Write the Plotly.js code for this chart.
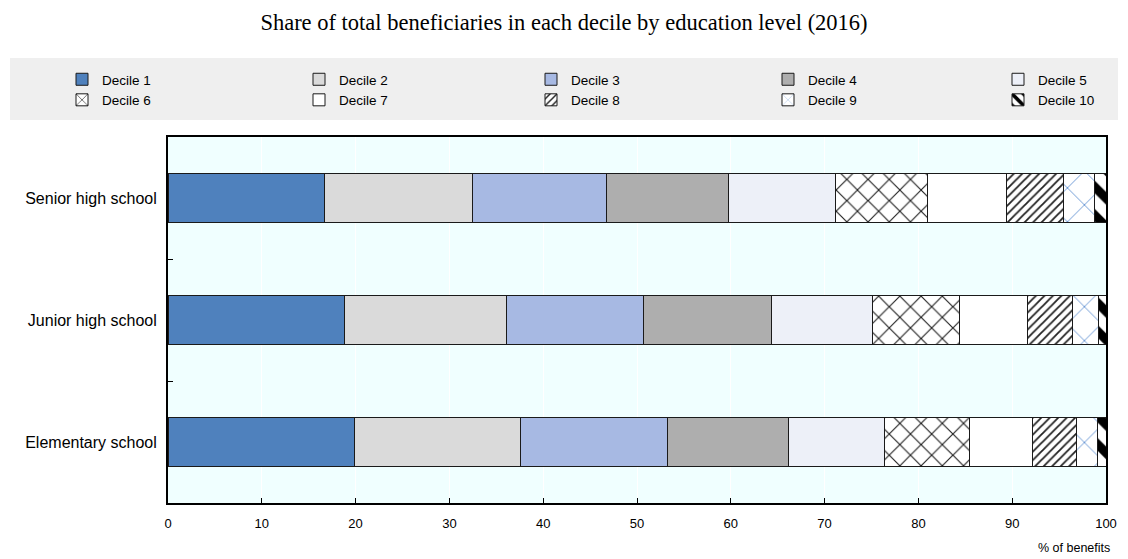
<!DOCTYPE html>
<html>
<head>
<meta charset="utf-8">
<script src="https://cdn.plot.ly/plotly-3.0.1.min.js"></script>
<style>html,body{margin:0;padding:0;background:#fff;}#chart{width:1128px;height:559px;}</style>
</head>
<body>
<div id="chart"></div>
<script>
// Categories (bottom to top)
const categories = ['Elementary school', 'Junior high school', 'Senior high school'];
const deciles = ['Decile 1','Decile 2','Decile 3','Decile 4','Decile 5','Decile 6','Decile 7','Decile 8','Decile 9','Decile 10'];
// Shares (%) per decile, order: Elementary, Junior high, Senior high
const decile1  = [19.9, 18.8, 16.7];
const decile2  = [17.7, 17.3, 15.8];
const decile3  = [15.6, 14.6, 14.3];
const decile4  = [13.0, 13.6, 13.0];
const decile5  = [10.2, 10.8, 11.4];
const decile6  = [9.0, 9.3, 9.8];
const decile7  = [6.8, 7.2, 8.4];
const decile8  = [4.7, 4.8, 6.1];
const decile9  = [2.2, 2.8, 3.3];
const decile10 = [0.9, 0.9, 1.2];
const xTicks = [0,10,20,30,40,50,60,70,80,90,100];

const series = [decile1,decile2,decile3,decile4,decile5,decile6,decile7,decile8,decile9,decile10];
const fills = ['#4f81bd','#dadada','#a7b9e3','#aeaeae','#edf0f8','#ffffff','#ffffff','#ffffff','#ffffff','#ffffff'];
const patterns = [
  null,null,null,null,null,
  {shape:'x', fgcolor:'#222222', bgcolor:'#ffffff', size:15, solidity:0.15},
  null,
  {shape:'/', fgcolor:'#222222', bgcolor:'#ffffff', size:6, solidity:0.3},
  {shape:'x', fgcolor:'#6f9bd6', bgcolor:'#ffffff', size:24, solidity:0.08},
  {shape:'\\', fgcolor:'#000000', bgcolor:'#ffffff', size:20, solidity:0.45}
];

const legendIds = ['legend','legend2','legend3','legend4','legend5'];

const traces = series.map((vals, i) => {
  const marker = {color: fills[i], line:{color:'#1a1a1a', width:1}};
  if (patterns[i]) marker.pattern = patterns[i];
  return {
    type:'bar', orientation:'h', name: deciles[i],
    y: categories, x: vals, width: 0.4, marker: marker,
    legend: legendIds[i % 5],
    hoverinfo:'x+name'
  };
});

const W = 1128, H = 559;
const L = 168, R = 22, T = 137, B = 56;
const pw = W - L - R, ph = H - T - B;
const px2x = p => (p - L) / pw;
const py2y = p => (H - B - p) / ph;

const legendCols = [62, 299, 531, 768, 998];
const legendFont = {size:13.5, family:'Liberation Sans, Arial, sans-serif', color:'#000000'};

const layout = {
  width: W, height: H,
  margin: {l:L, r:R, t:T, b:B, pad:0},
  paper_bgcolor:'#ffffff',
  plot_bgcolor:'#f0ffff',
  barmode:'stack',
  font:{family:'Liberation Sans, Arial, sans-serif', color:'#000000', size:13},
  title:{
    text:'Share of total beneficiaries in each decile by education level (2016)',
    font:{family:'Liberation Serif, Times New Roman, serif', size:22.5, color:'#000000'},
    x:0.5, xanchor:'center', xref:'container', y:1-22/H, yref:'container', yanchor:'middle'
  },
  xaxis:{
    range:[0,100], tickvals:xTicks, ticktext:xTicks.map(String),
    showgrid:true, gridcolor:'#ffffff', gridwidth:1, zeroline:false,
    showline:true, linecolor:'#000000', linewidth:2, mirror:true,
    ticks:'inside', ticklen:5, tickcolor:'#000000', tickwidth:1,
    ticklabelstandoff:7,
    tickfont:{size:13, family:'Liberation Sans, Arial, sans-serif'},
    fixedrange:true
  },
  yaxis:{
    type:'category', categoryorder:'array', categoryarray:categories,
    range:[-0.5, 2.5],
    showgrid:false, zeroline:false,
    showline:true, linecolor:'#000000', linewidth:2, mirror:true,
    ticks:'inside', tickson:'boundaries', ticklen:5, tickcolor:'#000000', tickwidth:1,
    ticklabelstandoff:6,
    tickfont:{size:16, family:'Liberation Sans, Arial, sans-serif'},
    fixedrange:true
  },
  shapes:[{
    type:'rect', xref:'paper', yref:'paper', layer:'below',
    x0:px2x(10), x1:px2x(1118), y0:py2y(120), y1:py2y(58),
    fillcolor:'#efefef', line:{width:0}
  }],
  annotations:[{
    text:'% of benefits', xref:'paper', yref:'paper', x:1, y:py2y(548),
    xanchor:'right', yanchor:'middle', xshift:6, showarrow:false,
    font:{size:12.5, family:'Liberation Sans, Arial, sans-serif', color:'#000000'}
  }],
  showlegend:true
};

legendIds.forEach((id, k) => {
  layout[id] = {
    orientation:'v', x:px2x(legendCols[k]), xanchor:'left',
    y:py2y(64), yanchor:'top',
    bgcolor:'rgba(0,0,0,0)', borderwidth:0,
    font:legendFont, traceorder:'normal', tracegroupgap:0
  };
});

Plotly.newPlot('chart', traces, layout, {displayModeBar:false, staticPlot:true});
</script>
</body>
</html>
